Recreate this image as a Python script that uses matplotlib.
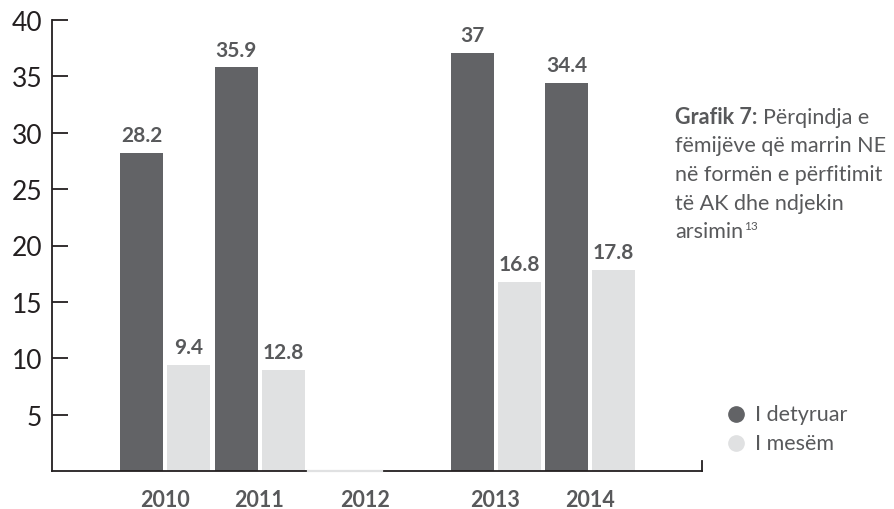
import matplotlib.pyplot as plt

# data
years = ['2010', '2011', '2012', '2013', '2014']
detyruar = [28.2, 35.8, None, 37.1, 34.4]          # bar heights as drawn
detyruar_labels = ['28.2', '35.9', None, '37', '34.4']
mesem = [9.4, 9.0, None, 16.8, 17.8]               # 2011 bar drawn lower than its label
mesem_labels = ['9.4', '12.8', None, '16.8', '17.8']

# layout: x axis uses pixel-like units
group_x = [165, 259.5, 365, 495.5, 590]
bar_w = 43
offset = 23.5

dark = '#626366'
light = '#e0e1e2'
txt = '#58595b'

plt.rcParams['font.family'] = ['Lato', 'DejaVu Sans']

fig = plt.figure(figsize=(8.94, 5.10), dpi=100)
ax = fig.add_axes([52 / 894, 38 / 510, 650 / 894, 451 / 510])
ax.set_xlim(52, 702)
ax.set_ylim(0, 40)

for gx, d, dl, m, ml in zip(group_x, detyruar, detyruar_labels, mesem, mesem_labels):
    if d is not None:
        ax.bar(gx - offset, d, width=bar_w, color=dark, zorder=2)
        ax.annotate(dl, (gx - offset, d), xytext=(0, 8.5), textcoords='offset points',
                    ha='center', va='baseline', fontsize=15, fontweight='bold', color=txt)
    if m is not None:
        ax.bar(gx + offset, m, width=bar_w, color=light, zorder=2)
        ax.annotate(ml, (gx + offset, m), xytext=(0, 8.5), textcoords='offset points',
                    ha='center', va='baseline', fontsize=15, fontweight='bold', color=txt)

for s in ['top', 'right']:
    ax.spines[s].set_visible(False)
for s in ['left', 'bottom']:
    ax.spines[s].set_linewidth(1.3)
    ax.spines[s].set_color('#231f20')

# light segment over the empty 2012 slot, small end tick at right
ax.plot([308, 382], [0, 0], color=light, lw=1.6, zorder=5, clip_on=False)
ax.plot([702, 702], [0, 0.9], color='#231f20', lw=1.3, clip_on=False)

ax.set_yticks(range(5, 45, 5))
ax.tick_params(axis='y', direction='in', length=11.5, width=1.3, pad=7,
               labelsize=19, labelcolor='#231f20', color='#231f20')
ax.set_xticks(group_x, years)
ax.tick_params(axis='x', length=0, pad=13, labelsize=15.5, labelcolor=txt)
for lab in ax.get_xticklabels():
    lab.set_fontweight('bold')

# caption
fs = 15.5
cap_lines = ['Përqindja e', 'fëmijëve që marrin NE', 'në formën e përfitimit',
             'të AK dhe ndjekin', 'arsimin']
x0 = 675 / 894
head = fig.text(x0, 1 - 118 / 510, 'Grafik 7:', fontsize=fs, fontweight='bold',
                color=txt, va='center', ha='left')
fig.canvas.draw()
bb = head.get_window_extent().transformed(fig.transFigure.inverted())
fig.text(bb.x1 + 6 / 894, 1 - 118 / 510, cap_lines[0], fontsize=fs, color=txt,
         va='center', ha='left')
for i, line in enumerate(cap_lines[1:]):
    y = 1 - (146.5 + 28.5 * i) / 510
    t = fig.text(x0, y, line, fontsize=fs, color=txt, va='center', ha='left')
    if i == 3:
        fig.canvas.draw()
        b2 = t.get_window_extent().transformed(fig.transFigure.inverted())
        fig.text(b2.x1 + 1 / 894, y + 5 / 510, '13', fontsize=8.5, color=txt,
                 va='center', ha='left')

# legend
for y, c, lab in [(415, dark, 'I detyruar'), (444, light, 'I mesëm')]:
    fig.lines.append(plt.Line2D([736 / 894], [1 - y / 510], marker='o', markersize=11,
                                color=c, transform=fig.transFigure))
    fig.text(755 / 894, 1 - y / 510, lab, fontsize=fs, color=txt, va='center', ha='left')

fig.savefig('out.png', dpi=100)
